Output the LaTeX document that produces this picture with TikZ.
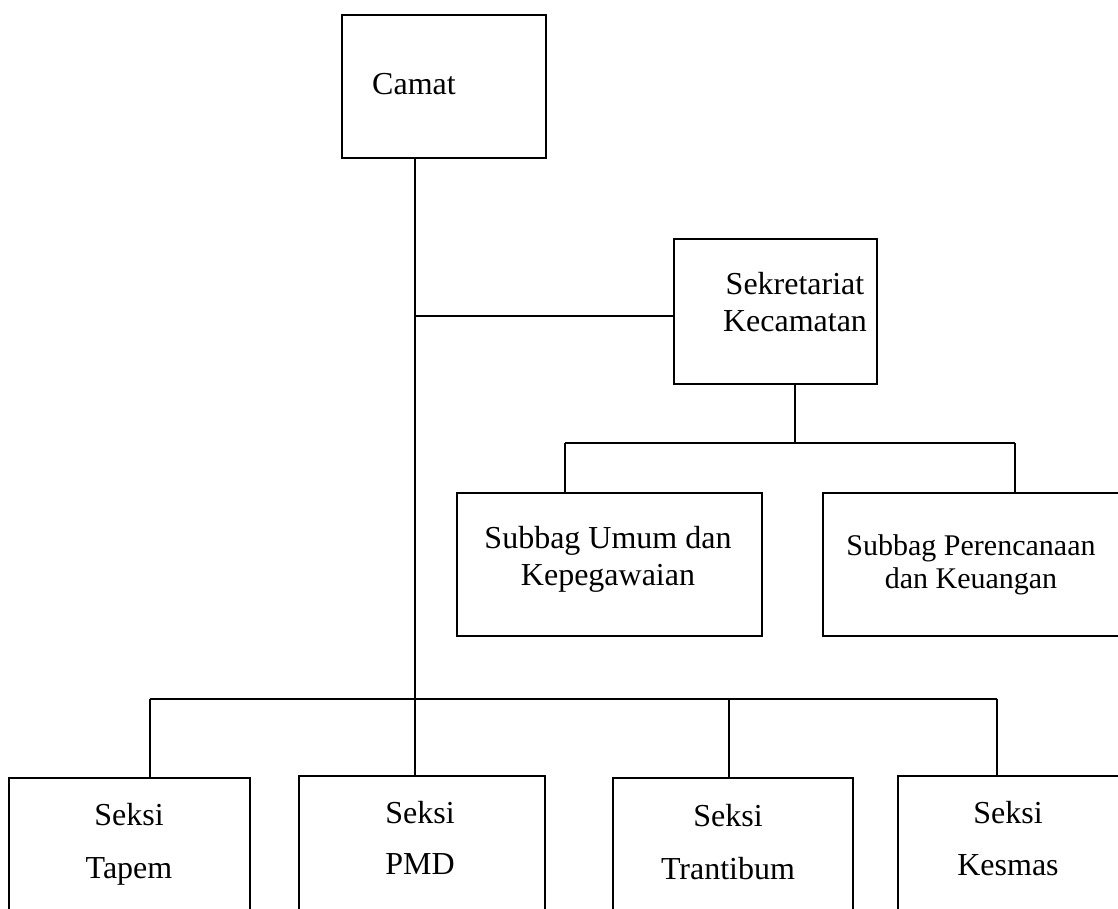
\documentclass[tikz,border=0pt]{standalone}
\usepackage{fontspec}
\setmainfont{Liberation Serif}
\begin{document}
\begin{tikzpicture}[x=1pt,y=-1pt,
  box/.style={draw=black,line width=1.6pt,rectangle,inner sep=0pt,anchor=north west},
  conn/.style={draw=black,line width=1.5pt},
  lbl/.style={anchor=base,align=center,inner sep=0pt,font=\fontsize{32}{37}\selectfont},
  lblbig/.style={lbl,font=\fontsize{32}{53}\selectfont},
  lblsmall/.style={lbl,font=\fontsize{30}{33}\selectfont}]
\useasboundingbox (0,0) rectangle (1118,908);
\clip (0,0) rectangle (1118,908);
% boxes
\node[box,minimum width=204pt,minimum height=143pt] (camat) at (341,14) {};
\node[box,minimum width=203pt,minimum height=145pt] (sek) at (673,238) {};
\node[box,minimum width=305pt,minimum height=143pt] (sub1) at (456,492) {};
\node[box,minimum width=303pt,minimum height=143pt] (sub2) at (822,492) {};
\node[box,minimum width=241pt,minimum height=200pt] (tapem) at (8,777) {};
\node[box,minimum width=246pt,minimum height=200pt] (pmd) at (298,775) {};
\node[box,minimum width=240pt,minimum height=200pt] (trant) at (612,777) {};
\node[box,minimum width=240pt,minimum height=200pt] (kesmas) at (897,775) {};
% labels (base = baseline of last line)
\node[lbl] (camat-t) at (414,94) {Camat};
\node[lbl] (sek-t) at (795,331) {Sekretariat\\Kecamatan};
\node[lbl] (sub1-t) at (608,585) {Subbag Umum dan\\Kepegawaian};
\node[lblsmall] (sub2-t) at (971,588) {Subbag Perencanaan\\dan Keuangan};
\node[lblbig] (tapem-t) at (129,878) {Seksi\\Tapem};
\node[lbl,font=\fontsize{32}{51}\selectfont] (pmd-t) at (420,874) {Seksi\\PMD};
\node[lblbig] (trant-t) at (728,879) {Seksi\\Trantibum};
\node[lbl,font=\fontsize{32}{52}\selectfont] (kesmas-t) at (1008,875) {Seksi\\Kesmas};
% junctions
\coordinate (jsek) at (415,316);
\coordinate (jbot) at (415,699);
\coordinate (jt1) at (150,699);
\coordinate (jt3) at (729,699);
\coordinate (jt4) at (997,699);
\coordinate (js) at (795,443);
\coordinate (js1) at (565,443);
\coordinate (js2) at (1015,443);
% connectors
\draw[conn] (camat.south -| jsek) -- (jbot) -- (pmd.north -| jbot);
\draw[conn] (jsek) -- (jsek -| sek.west);
\draw[conn] (jt1) -- (jt4);
\draw[conn] (jt1) -- (jt1 |- tapem.north);
\draw[conn] (jt3) -- (jt3 |- trant.north);
\draw[conn] (jt4) -- (jt4 |- kesmas.north);
\draw[conn] (sek.south -| js) -- (js);
\draw[conn] (js1) -- (js2);
\draw[conn] (js1) -- (js1 |- sub1.north);
\draw[conn] (js2) -- (js2 |- sub2.north);
\end{tikzpicture}
\end{document}
